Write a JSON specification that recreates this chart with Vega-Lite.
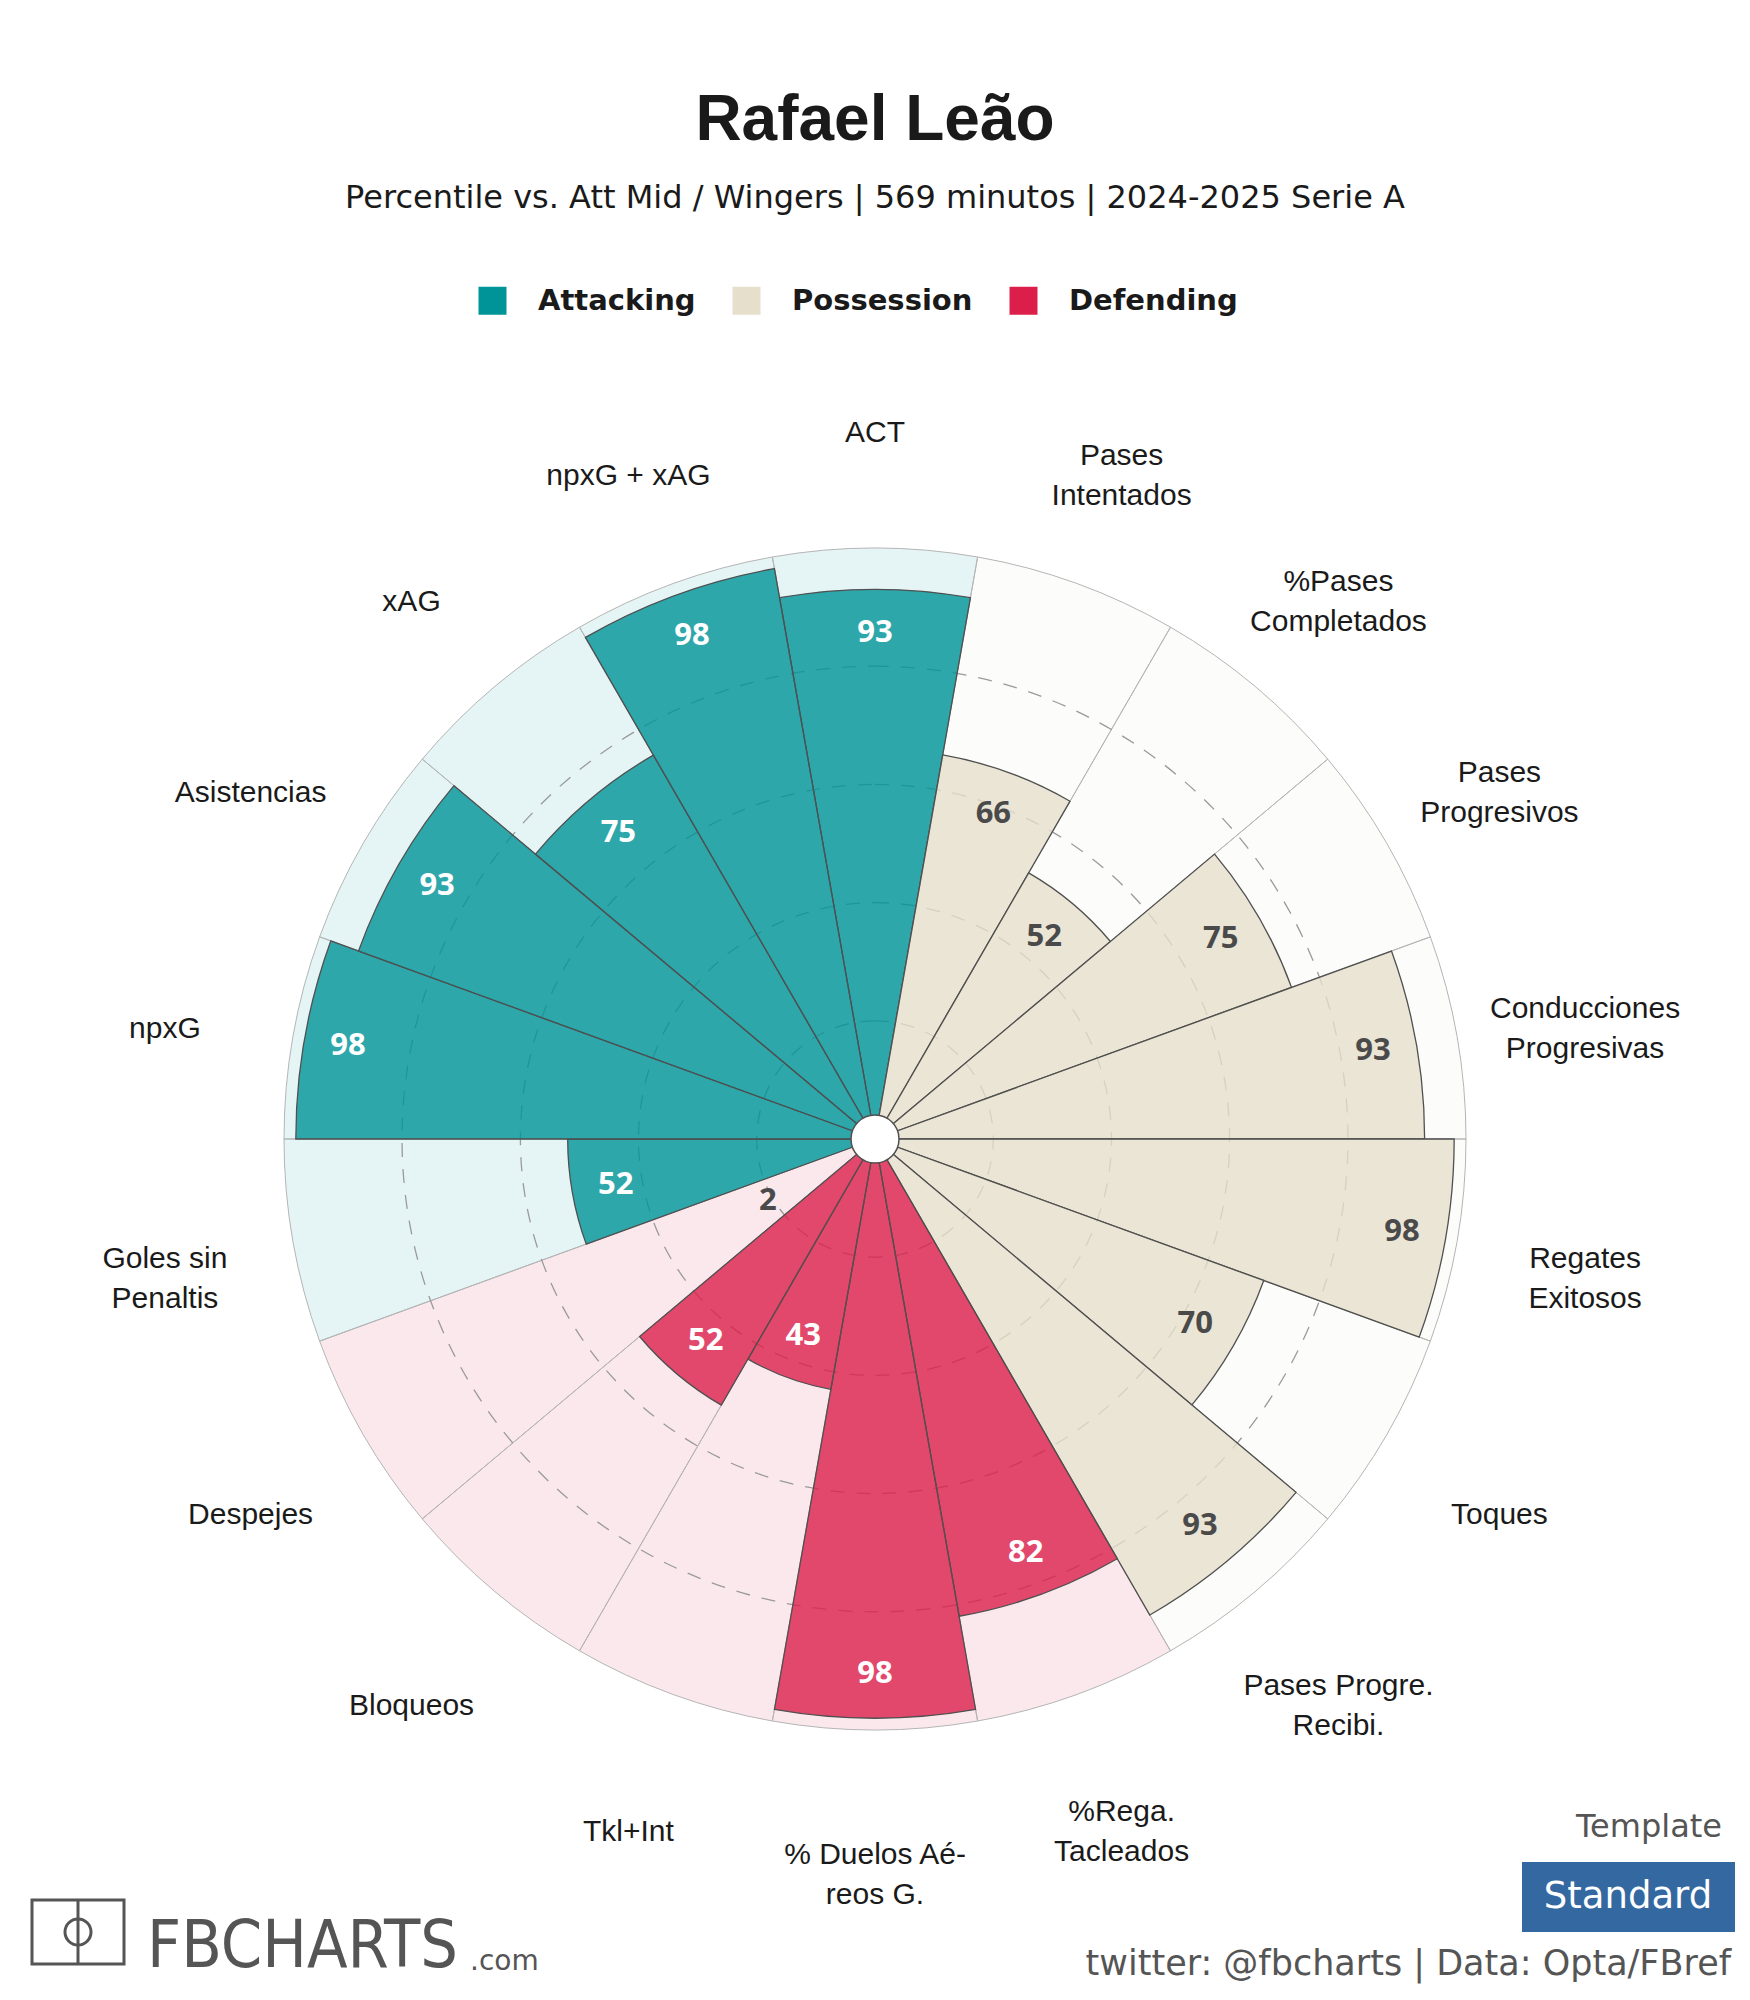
{
  "$schema": "https://vega.github.io/schema/vega-lite/v6.json",
  "width": 1750,
  "height": 1722,
  "autosize": {"type": "none"},
  "padding": {"top": 278, "left": 0, "right": 0, "bottom": 0},
  "background": "white",
  "config": {"view": {"stroke": null}},
  "title": {
    "text": "Rafael Leão",
    "subtitle": "Percentile vs. Att Mid / Wingers | 569 minutos | 2024-2025 Serie A",
    "anchor": "middle",
    "font": "Liberation Sans",
    "fontSize": 64,
    "fontWeight": "bold",
    "color": "#1a1a1a",
    "subtitleFont": "DejaVu Sans",
    "subtitleFontSize": 32,
    "subtitleColor": "#1a1a1a",
    "subtitlePadding": 30,
    "offset": 64
  },
  "data": {
    "values": [
      {"idx": 0, "label": "ACT", "group": "Attacking", "value": 93},
      {"idx": 1, "label": "Pases\nIntentados", "group": "Possession", "value": 66},
      {"idx": 2, "label": "%Pases\nCompletados", "group": "Possession", "value": 52},
      {"idx": 3, "label": "Pases\nProgresivos", "group": "Possession", "value": 75},
      {"idx": 4, "label": "Conducciones\nProgresivas", "group": "Possession", "value": 93},
      {"idx": 5, "label": "Regates\nExitosos", "group": "Possession", "value": 98},
      {"idx": 6, "label": "Toques", "group": "Possession", "value": 70},
      {"idx": 7, "label": "Pases Progre.\nRecibi.", "group": "Possession", "value": 93},
      {"idx": 8, "label": "%Rega.\nTacleados", "group": "Defending", "value": 82},
      {"idx": 9, "label": "% Duelos Aé-\nreos G.", "group": "Defending", "value": 98},
      {"idx": 10, "label": "Tkl+Int", "group": "Defending", "value": 43},
      {"idx": 11, "label": "Bloqueos", "group": "Defending", "value": 52},
      {"idx": 12, "label": "Despejes", "group": "Defending", "value": 2},
      {"idx": 13, "label": "Goles sin\nPenaltis", "group": "Attacking", "value": 52},
      {"idx": 14, "label": "npxG", "group": "Attacking", "value": 98},
      {"idx": 15, "label": "Asistencias", "group": "Attacking", "value": 93},
      {"idx": 16, "label": "xAG", "group": "Attacking", "value": 75},
      {"idx": 17, "label": "npxG + xAG", "group": "Attacking", "value": 98}
    ]
  },
  "layer": [
    {
      "mark": {"type": "arc", "fillOpacity": 0.1, "stroke": "#b5b5b5", "strokeWidth": 1},
      "encoding": {
        "theta": {"field": "idx", "type": "ordinal", "scale": {"domain": [0,1,2,3,4,5,6,7,8,9,10,11,12,13,14,15,16,17], "range": [-0.1745329, 6.1086524], "paddingInner": 0, "paddingOuter": 0}},
        "radius": {"datum": 100, "type": "quantitative", "stack": null, "scale": {"type": "linear", "domain": [0, 100], "range": [0, 591], "zero": true}},
        "color": {
          "field": "group", "type": "nominal",
          "scale": {"domain": ["Attacking", "Possession", "Defending"], "range": ["#009499", "#e6dfcc", "#dc1f4a"]},
          "legend": {
            "title": null, "orient": "none", "direction": "horizontal",
            "legendX": 478, "legendY": 8,
            "symbolType": "square", "symbolSize": 784, "symbolStrokeWidth": 0, "symbolOpacity": 1,
            "labelFont": "DejaVu Sans", "labelFontWeight": "bold", "labelFontSize": 29, "labelColor": "#1a1a1a",
            "labelOffset": 31, "columnPadding": 36, "labelLimit": 400
          }
        }
      }
    },
    {
      "data": {"values": [{"r": 20}, {"r": 40}, {"r": 60}, {"r": 80}]},
      "mark": {"type": "arc", "theta": 0, "theta2": 6.2832, "fill": null, "filled": false, "stroke": "#9a9a9a", "strokeWidth": 1.3, "strokeDash": [14, 12]},
      "encoding": {
        "radius": {"field": "r", "type": "quantitative", "stack": null}
      }
    },
    {
      "mark": {"type": "arc", "fillOpacity": 0.8, "stroke": "#505050", "strokeWidth": 1.3},
      "encoding": {
        "theta": {"field": "idx", "type": "ordinal"},
        "radius": {"field": "value", "type": "quantitative", "stack": null},
        "color": {"field": "group", "type": "nominal"}
      }
    },
    {
      "mark": {"type": "arc", "theta": 0, "theta2": 6.2832, "radius": 24, "fill": "white", "stroke": "#505050", "strokeWidth": 1.5},
      "data": {"values": [{}]},
      "encoding": {}
    },
    {
      "transform": [{"filter": "datum.value >= 10"}],
      "mark": {"type": "text", "font": "Open Sans", "fontWeight": "bold", "fontSize": 31, "align": "center", "baseline": "middle", "radiusOffset": -44},
      "encoding": {
        "theta": {"field": "idx", "type": "ordinal"},
        "radius": {"field": "value", "type": "quantitative", "stack": null},
        "text": {"field": "value", "type": "quantitative"},
        "fill": {"condition": {"test": "datum.group === 'Possession'", "value": "#4a4a4a"}, "value": "#ffffff"}
      }
    },
    {
      "transform": [{"filter": "datum.value < 10"}],
      "mark": {"type": "text", "font": "Open Sans", "fontWeight": "bold", "fontSize": 31, "align": "center", "baseline": "middle", "radiusOffset": 112, "fill": "#4a4a4a"},
      "encoding": {
        "theta": {"field": "idx", "type": "ordinal"},
        "radius": {"field": "value", "type": "quantitative", "stack": null},
        "text": {"field": "value", "type": "quantitative"}
      }
    },
    {
      "transform": [{"filter": "indexof(datum.label, '\\n') < 0"}],
      "mark": {"type": "text", "font": "Liberation Sans", "fontSize": 30, "fill": "#1a1a1a", "align": "center", "baseline": "middle", "dy": 15},
      "encoding": {
        "theta": {"field": "idx", "type": "ordinal"},
        "radius": {"datum": 122, "type": "quantitative", "stack": null},
        "text": {"field": "label", "type": "nominal"}
      }
    },
    {
      "transform": [{"filter": "indexof(datum.label, '\\n') >= 0"}],
      "mark": {"type": "text", "font": "Liberation Sans", "fontSize": 30, "fill": "#1a1a1a", "align": "center", "baseline": "middle", "dy": -5, "lineBreak": "\n", "lineHeight": 40},
      "encoding": {
        "theta": {"field": "idx", "type": "ordinal"},
        "radius": {"datum": 122, "type": "quantitative", "stack": null},
        "text": {"field": "label", "type": "nominal"}
      }
    },
    {
      "data": {"values": [{}]},
      "mark": {"type": "text", "x": 1722, "y": 1559, "text": "Template", "align": "right", "baseline": "alphabetic", "font": "DejaVu Sans", "fontSize": 32, "fill": "#555555"},
      "encoding": {}
    },
    {
      "data": {"values": [{}]},
      "mark": {"type": "rect", "x": 1522, "x2": 1735, "y": 1584, "y2": 1654, "fill": "#3468a1"},
      "encoding": {}
    },
    {
      "data": {"values": [{}]},
      "mark": {"type": "text", "x": 1628, "y": 1619, "text": "Standard", "align": "center", "baseline": "middle", "font": "DejaVu Sans", "fontSize": 37, "fill": "#ffffff"},
      "encoding": {}
    },
    {
      "data": {"values": [{}]},
      "mark": {"type": "text", "x": 1731, "y": 1697, "text": "twitter: @fbcharts | Data: Opta/FBref", "align": "right", "baseline": "alphabetic", "font": "DejaVu Sans", "fontSize": 35, "fill": "#555555"},
      "encoding": {}
    },
    {
      "data": {"values": [{}]},
      "mark": {"type": "rect", "x": 32, "x2": 124, "y": 1622, "y2": 1686, "fill": null, "filled": false, "stroke": "#555555", "strokeWidth": 3},
      "encoding": {}
    },
    {
      "data": {"values": [{}]},
      "mark": {"type": "rect", "x": 76.5, "x2": 79.5, "y": 1622, "y2": 1686, "fill": "#555555"},
      "encoding": {}
    },
    {
      "data": {"values": [{}]},
      "mark": {"type": "point", "shape": "circle", "x": 78, "y": 1654, "size": 676, "filled": false, "stroke": "#555555", "strokeWidth": 3, "opacity": 1},
      "encoding": {}
    },
    {
      "data": {"values": [{}]},
      "mark": {"type": "text", "x": 147, "y": 1689, "text": "FBCHARTS", "align": "left", "baseline": "alphabetic", "font": "'Liberation Sans Narrow', 'DejaVu Sans Condensed', 'Roboto Condensed', 'Liberation Sans', sans-serif", "fontSize": 66, "fill": "#555555"},
      "encoding": {}
    },
    {
      "data": {"values": [{}]},
      "mark": {"type": "text", "x": 470, "y": 1692, "text": ".com", "align": "left", "baseline": "alphabetic", "font": "DejaVu Sans", "fontSize": 28, "fill": "#555555"},
      "encoding": {}
    }
  ]
}
